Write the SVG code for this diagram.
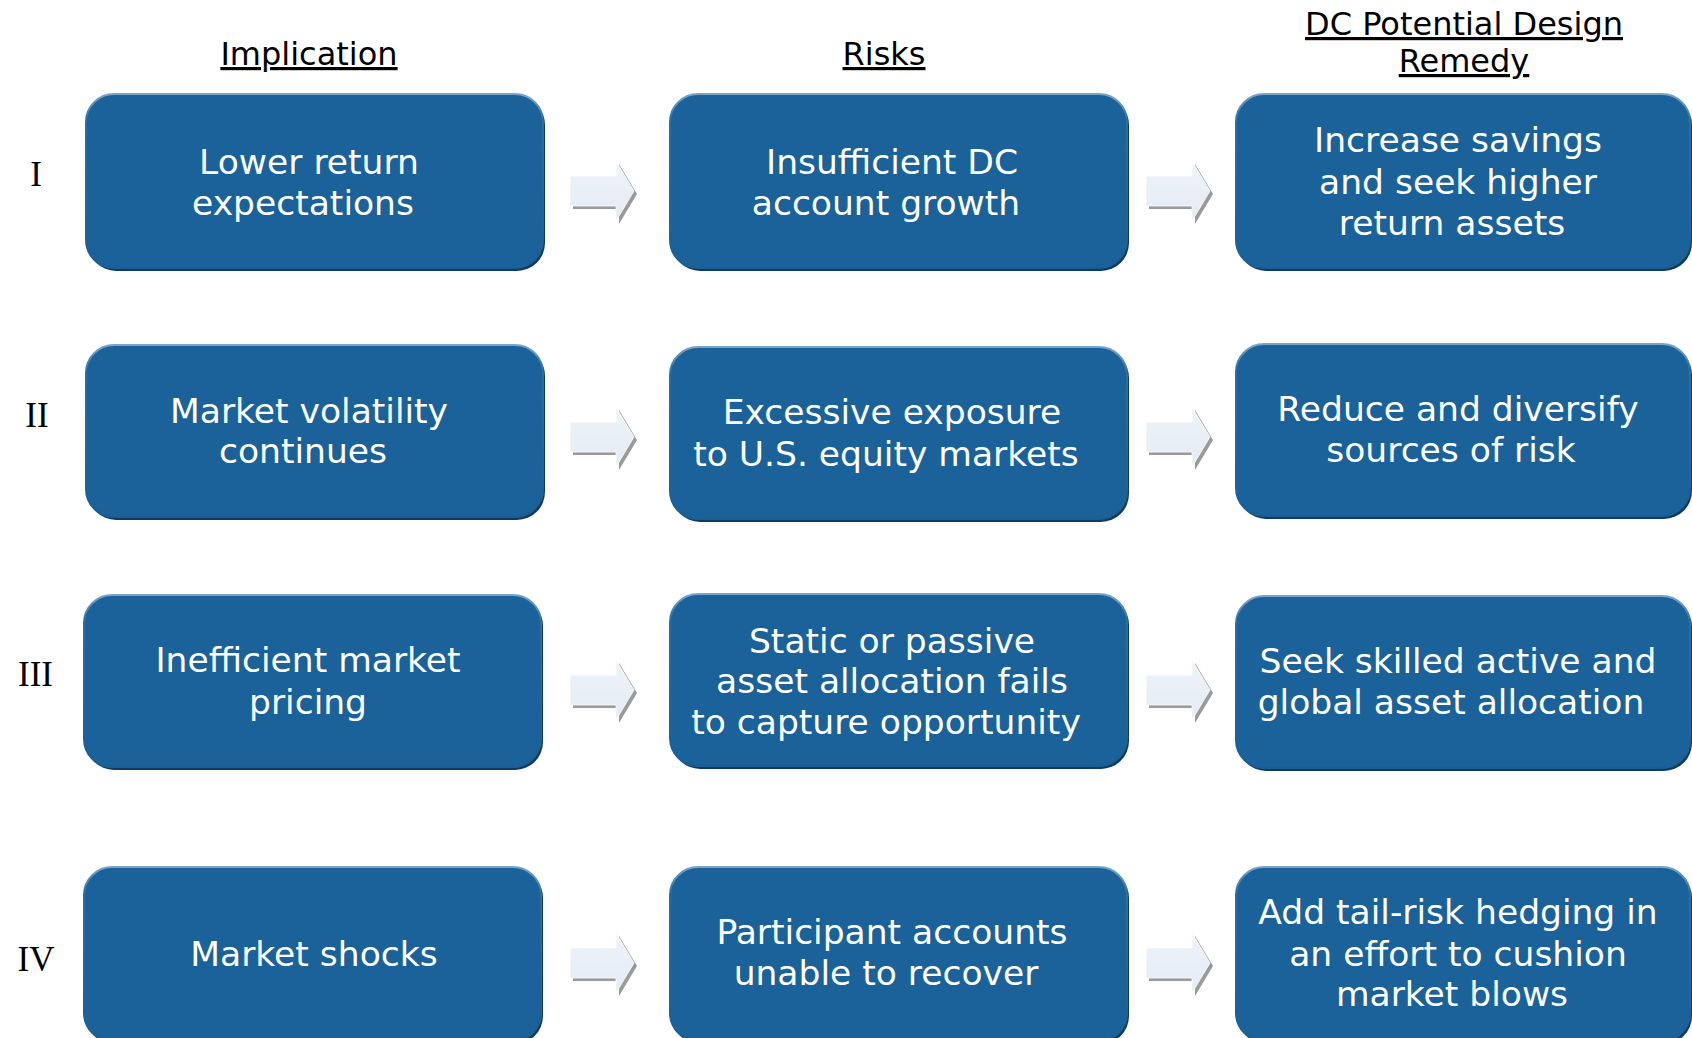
<svg xmlns="http://www.w3.org/2000/svg" width="1692" height="1038" viewBox="0 0 1692 1038">
<style>
.hdr{font-family:"DejaVu Sans",Verdana,sans-serif;font-size:32px;fill:#000;text-anchor:middle;text-decoration:underline}
.num{font-family:"Liberation Serif","Times New Roman",serif;font-size:35px;fill:#000;text-anchor:middle}
.lbl{font-family:"DejaVu Sans",Verdana,sans-serif;font-size:34.5px;fill:#fff;text-anchor:middle}
.sh{fill:#0f3b62}
.box{fill:#1a6299;stroke:url(#bevel);stroke-width:2}
.ash{fill:#9a9a9a}
.arr{fill:url(#afill);stroke:#ffffff;stroke-width:0.8}
</style>
<defs>
<linearGradient id="bevel" x1="0" y1="0" x2="0" y2="1">
<stop offset="0" stop-color="#7ba5ca"/>
<stop offset="0.15" stop-color="#2c6fa3"/>
<stop offset="1" stop-color="#1a5e93"/>
</linearGradient>
<linearGradient id="afill" x1="0" y1="0" x2="0" y2="1">
<stop offset="0" stop-color="#eef3fa"/>
<stop offset="1" stop-color="#e4ebf5"/>
</linearGradient>
<path id="arrow" d="M0,-15 L46,-15 L46,-30 L64,0 L46,30 L46,15 L0,15 Z"/>
</defs>
<rect width="1692" height="1038" fill="#fff"/>

<g id="headers">
<text class="hdr" x="309" y="65">Implication</text>
<text class="hdr" x="884" y="65">Risks</text>
<text class="hdr" x="1464" y="35">DC Potential Design</text>
<text class="hdr" x="1464" y="72">Remedy</text>
</g>

<g id="row-numbers">
<text class="num" x="36" y="186">I</text>
<text class="num" x="37" y="427">II</text>
<text class="num" x="35.5" y="686">III</text>
<text class="num" x="36" y="971">IV</text>
</g>

<g id="connectors">
<g transform="translate(570,191)"><use href="#arrow" class="ash" x="3" y="3"/><use href="#arrow" class="arr"/></g>
<g transform="translate(1146,191)"><use href="#arrow" class="ash" x="3" y="3"/><use href="#arrow" class="arr"/></g>
<g transform="translate(570,437)"><use href="#arrow" class="ash" x="3" y="3"/><use href="#arrow" class="arr"/></g>
<g transform="translate(1146,437)"><use href="#arrow" class="ash" x="3" y="3"/><use href="#arrow" class="arr"/></g>
<g transform="translate(570,690)"><use href="#arrow" class="ash" x="3" y="3"/><use href="#arrow" class="arr"/></g>
<g transform="translate(1146,690)"><use href="#arrow" class="ash" x="3" y="3"/><use href="#arrow" class="arr"/></g>
<g transform="translate(570,963)"><use href="#arrow" class="ash" x="3" y="3"/><use href="#arrow" class="arr"/></g>
<g transform="translate(1146,963)"><use href="#arrow" class="ash" x="3" y="3"/><use href="#arrow" class="arr"/></g>
</g>

<g id="n-r1c1">
<rect class="sh" x="88" y="97" width="457" height="174" rx="28"/>
<rect class="box" x="86" y="94" width="457" height="174" rx="28"/>
<text class="lbl" x="309" y="174">Lower return</text>
<text class="lbl" x="303" y="215">expectations</text>
</g>
<g id="n-r1c2">
<rect class="sh" x="672" y="97" width="457" height="174" rx="28"/>
<rect class="box" x="670" y="94" width="457" height="174" rx="28"/>
<text class="lbl" x="892" y="174">Insufficient DC</text>
<text class="lbl" x="886" y="215">account growth</text>
</g>
<g id="n-r1c3">
<rect class="sh" x="1238" y="97" width="454" height="174" rx="28"/>
<rect class="box" x="1236" y="94" width="454" height="174" rx="28"/>
<text class="lbl" x="1458" y="152">Increase savings</text>
<text class="lbl" x="1458" y="194">and seek higher</text>
<text class="lbl" x="1452" y="235">return assets</text>
</g>

<g id="n-r2c1">
<rect class="sh" x="88" y="348" width="457" height="172" rx="28"/>
<rect class="box" x="86" y="345" width="457" height="172" rx="28"/>
<text class="lbl" x="309" y="423">Market volatility</text>
<text class="lbl" x="303" y="463">continues</text>
</g>
<g id="n-r2c2">
<rect class="sh" x="672" y="350" width="457" height="172" rx="28"/>
<rect class="box" x="670" y="347" width="457" height="172" rx="28"/>
<text class="lbl" x="892" y="424">Excessive exposure</text>
<text class="lbl" x="886" y="466">to U.S. equity markets</text>
</g>
<g id="n-r2c3">
<rect class="sh" x="1238" y="347" width="454" height="172" rx="28"/>
<rect class="box" x="1236" y="344" width="454" height="172" rx="28"/>
<text class="lbl" x="1458" y="421">Reduce and diversify</text>
<text class="lbl" x="1451" y="462">sources of risk</text>
</g>

<g id="n-r3c1">
<rect class="sh" x="86" y="598" width="457" height="172" rx="28"/>
<rect class="box" x="84" y="595" width="457" height="172" rx="28"/>
<text class="lbl" x="308" y="672">Inefficient market</text>
<text class="lbl" x="308" y="714">pricing</text>
</g>
<g id="n-r3c2">
<rect class="sh" x="672" y="597" width="457" height="172" rx="28"/>
<rect class="box" x="670" y="594" width="457" height="172" rx="28"/>
<text class="lbl" x="892" y="653">Static or passive</text>
<text class="lbl" x="892" y="693">asset allocation fails</text>
<text class="lbl" x="886" y="734">to capture opportunity</text>
</g>
<g id="n-r3c3">
<rect class="sh" x="1238" y="599" width="454" height="172" rx="28"/>
<rect class="box" x="1236" y="596" width="454" height="172" rx="28"/>
<text class="lbl" x="1458" y="673">Seek skilled active and</text>
<text class="lbl" x="1451" y="714">global asset allocation</text>
</g>

<g id="n-r4c1">
<rect class="sh" x="86" y="870" width="457" height="174" rx="28"/>
<rect class="box" x="84" y="867" width="457" height="174" rx="28"/>
<text class="lbl" x="314" y="966">Market shocks</text>
</g>
<g id="n-r4c2">
<rect class="sh" x="672" y="870" width="457" height="174" rx="28"/>
<rect class="box" x="670" y="867" width="457" height="174" rx="28"/>
<text class="lbl" x="892" y="944">Participant accounts</text>
<text class="lbl" x="886" y="985">unable to recover</text>
</g>
<g id="n-r4c3">
<rect class="sh" x="1238" y="870" width="454" height="174" rx="28"/>
<rect class="box" x="1236" y="867" width="454" height="174" rx="28"/>
<text class="lbl" x="1458" y="924">Add tail-risk hedging in</text>
<text class="lbl" x="1458" y="966">an effort to cushion</text>
<text class="lbl" x="1452" y="1006">market blows</text>
</g>
</svg>
